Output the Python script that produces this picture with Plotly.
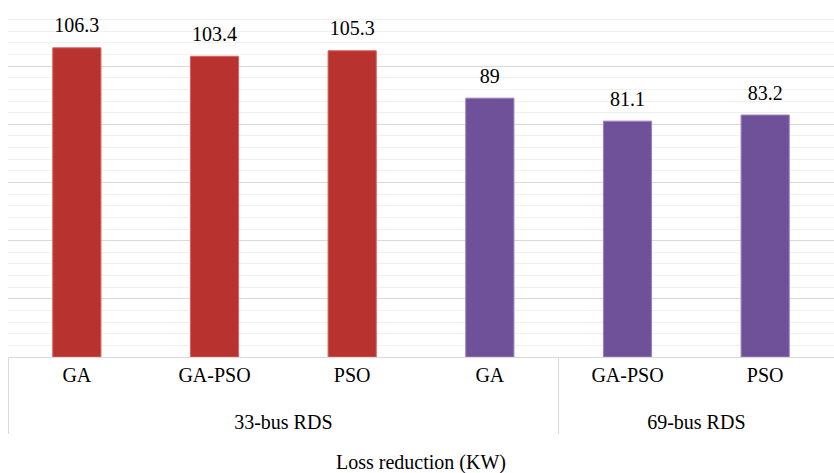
import plotly.graph_objects as go

systems = ["33-bus RDS", "33-bus RDS", "33-bus RDS", "33-bus RDS", "69-bus RDS", "69-bus RDS"]
# the 4th "GA" carries a zero-width space so it stays a separate category inside the 33-bus group
methods = ["GA", "GA-PSO", "PSO", "GA\u200b", "GA-PSO", "PSO"]
loss_reduction = [106.3, 103.4, 105.3, 89, 81.1, 83.2]
value_labels = ["106.3", "103.4", "105.3", "89", "81.1", "83.2"]
bar_colors = ["#b8332f", "#b8332f", "#b8332f", "#6e5199", "#6e5199", "#6e5199"]
edge_colors = ["#d9625e", "#d9625e", "#d9625e", "#9a82bf", "#9a82bf", "#9a82bf"]

FONT = "Liberation Serif, Times New Roman, serif"

# an empty small second line under each method label leaves room like the reference
method_ticks = [m + "<br><span style='font-size:4px'> </span>" for m in methods]

fig = go.Figure()
fig.add_trace(go.Bar(
    x=[systems, method_ticks],
    y=loss_reduction,
    marker=dict(color=bar_colors, line=dict(color=edge_colors, width=1)),
    width=0.35,
    hoverinfo="skip",
))
fig.add_trace(go.Scatter(
    x=[systems, method_ticks],
    y=loss_reduction,
    mode="markers+text",
    text=value_labels,
    textposition="top center",
    textfont=dict(family=FONT, size=20, color="#000000"),
    marker=dict(size=15, opacity=0),
    hoverinfo="skip",
    cliponaxis=False,
))

fig.update_layout(
    width=834, height=473,
    margin=dict(l=8, r=0, t=8, b=116),
    paper_bgcolor="white", plot_bgcolor="white",
    showlegend=False,
    font=dict(family=FONT, size=20, color="#000000"),
    bargap=0.65,
)
fig.update_xaxes(
    type="multicategory", automargin=False,
    showline=True, linecolor="#d9d9d9", linewidth=1,
    showdividers=True, dividercolor="#d9d9d9", dividerwidth=1,
    ticks="outside", ticklen=9, tickcolor="rgba(0,0,0,0)",
    tickfont=dict(family=FONT, size=20, color="#000000"),
    title=dict(text="Loss reduction (KW)", font=dict(family=FONT, size=20), standoff=22),
    showgrid=False, zeroline=False,
)
fig.update_yaxes(
    range=[0, 120], dtick=20, showticklabels=False, automargin=False,
    showgrid=True, gridcolor="#d9d9d9", gridwidth=1,
    minor=dict(dtick=4, showgrid=True, gridcolor="#f0f0f0", gridwidth=1),
    zeroline=False, showline=False, ticks="",
)

fig.write_html(
    "out.html",
    config={"displayModeBar": False},
    post_script="document.body.style.margin='0';document.body.style.overflow='hidden';",
)
